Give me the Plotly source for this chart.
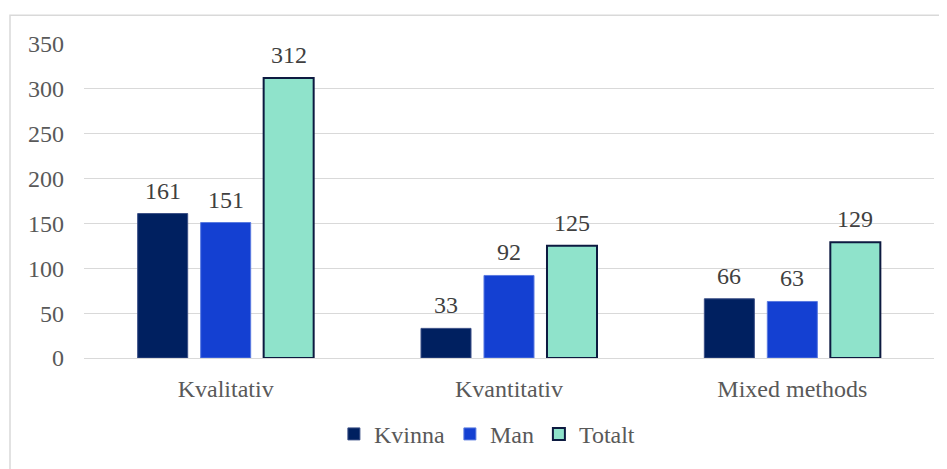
import plotly.graph_objects as go

categories = ["Kvalitativ", "Kvantitativ", "Mixed methods"]
kvinna = [161, 33, 66]
man = [151, 92, 63]
totalt = [312, 125, 129]
series_names = ["Kvinna", "Man", "Totalt"]
y_ticks = [0, 50, 100, 150, 200, 250, 300, 350]

FONT = "Liberation Serif"
colors = ["#002060", "#1440D2", "#8FE3CB"]
line_colors = ["#3b4f86", "#5a7ae0", "#0D1A40"]
line_widths = [1, 1, 2]

fig = go.Figure()
for name, vals, c, lc, lw in zip(series_names, [kvinna, man, totalt], colors, line_colors, line_widths):
    fig.add_trace(go.Bar(
        name=name, x=categories, y=vals,
        marker=dict(color=c, line=dict(color=lc, width=lw)),
    ))

annotations = []
for i, vals in enumerate([kvinna, man, totalt]):
    for cat, v in zip(categories, vals):
        annotations.append(dict(
            x=cat, y=v, xref="x", yref="y", text=str(v), showarrow=False,
            xshift=(i - 1) * 63, yanchor="bottom", yshift=8,
            font=dict(family=FONT, size=24, color="#404040"),
        ))

fig.update_layout(
    width=939, height=461,
    margin=dict(l=76, r=13, t=36, b=108),
    paper_bgcolor="white", plot_bgcolor="white",
    barmode="group", bargap=0.333, bargroupgap=0.206,
    font=dict(family=FONT, size=24, color="#595959"),
    showlegend=True,
    legend=dict(orientation="h", x=0.474, xanchor="center", y=-0.243, yanchor="middle",
                font=dict(family=FONT, size=24, color="#595959"),
                itemwidth=30, traceorder="normal"),
    annotations=annotations,
    shapes=[dict(type="rect", xref="paper", yref="paper",
                 x0=(10 - 84) / 850, x1=1.1, y0=-0.6, y1=(361 - 15) / 317,
                 line=dict(color="#D9D9D9", width=1.5), fillcolor="rgba(0,0,0,0)", layer="below")],
)
fig.update_yaxes(range=[0, 350], tickvals=y_ticks, showgrid=True, gridcolor="#D9D9D9",
                 gridwidth=1, zeroline=False, showline=False, ticks="", ticklabelstandoff=19,
                 tickfont=dict(family=FONT, size=24, color="#595959"))
fig.update_xaxes(showline=True, linecolor="#D9D9D9", linewidth=1, ticks="", ticklabelstandoff=9,
                 tickfont=dict(family=FONT, size=24, color="#595959"))

fig.write_html("out.html")
